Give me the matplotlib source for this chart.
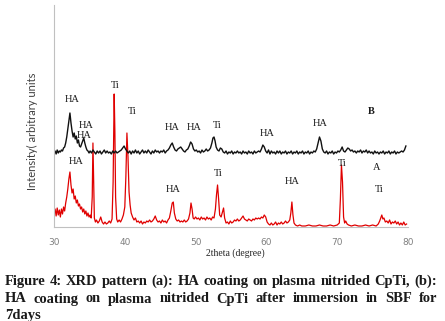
import numpy as np
import matplotlib
matplotlib.use('Agg')
import matplotlib.pyplot as plt

# (b) after SBF immersion - red trace
red_theta = [30.0, 30.15, 30.3, 30.45, 30.6, 30.75, 30.9, 31.05, 31.2, 31.35, 31.5, 31.65, 31.8, 31.95,
             32.1, 32.25, 32.4, 32.55, 32.7, 32.85, 33.0, 33.15, 33.3, 33.45, 33.6, 33.75, 33.9, 34.05,
             34.2, 34.35, 34.5, 34.65, 34.8, 34.95, 35.1, 35.25, 35.4, 35.5, 35.6, 35.7, 35.85, 36.0,
             36.2, 36.4, 36.6, 36.8, 37.0, 37.2, 37.4, 37.6, 37.8, 38.0, 38.2, 38.35, 38.5, 38.6, 38.7,
             38.85, 39.0, 39.2, 39.4, 39.6, 39.8, 40.0, 40.15, 40.3, 40.45, 40.6, 40.75, 40.9, 41.1,
             41.3, 41.5, 41.7, 41.9, 42.1, 42.3, 42.5, 42.7, 42.9, 43.1, 43.3, 43.5, 43.7, 43.9, 44.1,
             44.3, 44.5, 44.7, 44.9, 45.1, 45.3, 45.5, 45.7, 45.9, 46.1, 46.3, 46.5, 46.7, 46.85, 47.0,
             47.2, 47.4, 47.6, 47.8, 48.0, 48.2, 48.4, 48.6, 48.8, 49.0, 49.2, 49.35, 49.5, 49.65, 49.8,
             50.0, 50.2, 50.4, 50.6, 50.8, 51.0, 51.2, 51.4, 51.6, 51.8, 52.0, 52.2, 52.4, 52.6, 52.8,
             52.95, 53.1, 53.25, 53.4, 53.6, 53.8, 53.95, 54.1, 54.3, 54.5, 54.7, 54.9, 55.1, 55.3, 55.5,
             55.7, 55.9, 56.1, 56.3, 56.5, 56.7, 56.9, 57.1, 57.3, 57.5, 57.7, 57.9, 58.1, 58.3, 58.5,
             58.7, 58.9, 59.1, 59.3, 59.5, 59.7, 59.9, 60.1, 60.3, 60.5, 60.7, 60.9, 61.1, 61.3, 61.5,
             61.7, 61.9, 62.1, 62.3, 62.5, 62.7, 62.9, 63.1, 63.3, 63.45, 63.6, 63.75, 63.9, 64.1, 64.4,
             64.7, 65.0, 65.5, 66.0, 66.5, 67.0, 67.5, 68.0, 68.5, 69.0, 69.5, 70.0, 70.3, 70.45, 70.6,
             70.75, 70.9, 71.05, 71.2, 71.4, 71.6, 72.0, 72.5, 73.0, 73.5, 74.0, 74.5, 75.0, 75.5, 75.8,
             76.0, 76.15, 76.3, 76.45, 76.6, 76.8, 77.0, 77.2, 77.4, 77.6, 77.8, 78.0, 78.2, 78.4, 78.6,
             78.8, 79.0, 79.2, 79.4, 79.6, 79.8]
red_counts = [14, 18, 11, 19, 12, 17, 10, 18, 13, 20, 16, 24, 30, 38,
              48, 55, 42, 34, 38, 28, 31, 24, 27, 21, 23, 18, 20, 15,
              18, 13, 16, 11, 14, 10, 12, 9, 30, 84, 45, 9, 5, 7,
              4, 6, 10, 5, 3, 5, 3, 4, 6, 4, 8, 45, 133, 95, 30,
              8, 5, 7, 5, 8, 12, 20, 50, 94, 70, 35, 22, 14, 10,
              7, 9, 5, 6, 4, 6, 3, 5, 4, 6, 5, 7, 5, 6, 8,
              11, 7, 5, 6, 4, 7, 5, 6, 4, 7, 9, 16, 24, 25, 14,
              8, 6, 7, 5, 6, 5, 7, 5, 6, 8, 14, 24, 18, 9, 8,
              10, 8, 9, 7, 10, 8, 9, 7, 10, 8, 9, 7, 10, 9, 18,
              32, 42, 28, 12, 10, 15, 19, 9, 4, 5, 3, 6, 4, 5, 7,
              6, 8, 6, 7, 9, 11, 8, 7, 6, 8, 7, 6, 8, 7, 9,
              8, 9, 8, 10, 9, 12, 10, 5, 3, 2, 4, 2, 3, 5, 2,
              4, 3, 5, 3, 4, 6, 4, 5, 7, 14, 25, 12, 4, 2, 1,
              2, 1, 1, 2, 1, 1, 2, 1, 1, 2, 1, 2, 4, 28, 62,
              45, 10, 4, 6, 3, 2, 1, 2, 1, 1, 2, 1, 2, 1, 3,
              6, 9, 12, 8, 9, 5, 6, 4, 7, 3, 5, 4, 6, 3, 5,
              2, 4, 2, 5, 2, 3]

# (a) HA coating - black trace
black_theta = [30.0, 30.15, 30.3, 30.45, 30.6, 30.75, 30.9, 31.05, 31.2, 31.35, 31.5, 31.65, 31.8, 31.95,
               32.1, 32.25, 32.4, 32.55, 32.7, 32.85, 33.0, 33.15, 33.3, 33.45, 33.6, 33.75, 33.9, 34.05,
               34.2, 34.35, 34.5, 34.65, 34.8, 34.95, 35.1, 35.3, 35.5, 35.7, 35.9, 36.1, 36.3, 36.5,
               36.7, 36.9, 37.1, 37.3, 37.5, 37.7, 37.9, 38.1, 38.3, 38.5, 38.7, 38.9, 39.1, 39.3, 39.5,
               39.7, 39.9, 40.1, 40.3, 40.5, 40.7, 40.9, 41.1, 41.3, 41.5, 41.7, 41.9, 42.1, 42.3, 42.5,
               42.7, 42.9, 43.1, 43.3, 43.5, 43.7, 43.9, 44.1, 44.3, 44.5, 44.7, 44.9, 45.1, 45.3, 45.5,
               45.7, 45.9, 46.1, 46.3, 46.5, 46.7, 46.9, 47.1, 47.3, 47.5, 47.7, 47.9, 48.1, 48.3, 48.5,
               48.7, 48.9, 49.1, 49.3, 49.5, 49.7, 49.9, 50.1, 50.3, 50.5, 50.7, 50.9, 51.1, 51.3, 51.5,
               51.7, 51.9, 52.1, 52.3, 52.45, 52.6, 52.75, 52.9, 53.1, 53.3, 53.5, 53.7, 53.9, 54.1, 54.3,
               54.5, 54.7, 54.9, 55.1, 55.3, 55.5, 55.7, 55.9, 56.1, 56.3, 56.5, 56.7, 56.9, 57.1, 57.3,
               57.5, 57.7, 57.9, 58.1, 58.3, 58.5, 58.7, 58.9, 59.1, 59.3, 59.5, 59.7, 59.9, 60.1, 60.3,
               60.5, 60.7, 60.9, 61.1, 61.3, 61.5, 61.7, 61.9, 62.1, 62.3, 62.5, 62.7, 62.9, 63.1, 63.3,
               63.5, 63.7, 63.9, 64.1, 64.3, 64.5, 64.7, 64.9, 65.1, 65.3, 65.5, 65.7, 65.9, 66.1, 66.3,
               66.5, 66.7, 66.9, 67.1, 67.3, 67.5, 67.7, 67.9, 68.1, 68.3, 68.5, 68.7, 68.9, 69.1, 69.3,
               69.5, 69.7, 69.9, 70.1, 70.3, 70.5, 70.7, 70.9, 71.1, 71.3, 71.5, 71.7, 71.9, 72.1, 72.3,
               72.5, 72.7, 72.9, 73.1, 73.3, 73.5, 73.7, 73.9, 74.1, 74.3, 74.5, 74.7, 74.9, 75.1, 75.3,
               75.5, 75.7, 75.9, 76.1, 76.3, 76.5, 76.7, 76.9, 77.1, 77.3, 77.5, 77.7, 77.9, 78.1, 78.3,
               78.5, 78.7, 78.9, 79.1, 79.3, 79.5, 79.7]
black_counts = [74, 76, 73, 77, 74, 76, 75, 77, 76, 79, 80, 84, 90, 98,
                106, 114, 104, 96, 90, 94, 88, 91, 84, 87, 81, 80, 83, 86,
                89, 84, 80, 77, 76, 74, 76, 74, 77, 75, 73, 76, 74, 76,
                73, 75, 77, 74, 76, 74, 75, 73, 76, 74, 76, 74, 75, 76, 77,
                79, 81, 78, 76, 74, 76, 73, 76, 74, 77, 74, 76, 73, 75, 77,
                74, 76, 74, 77, 75, 73, 76, 74, 77, 75, 76, 74, 76, 75, 77,
                74, 76, 77, 79, 82, 84, 80, 77, 76, 78, 79, 80, 78, 76, 75,
                77, 78, 81, 85, 83, 78, 76, 77, 75, 76, 74, 77, 75, 76, 78,
                76, 77, 79, 84, 89, 90, 86, 80, 77, 76, 79, 78, 75, 74, 76,
                73, 75, 74, 76, 73, 75, 74, 76, 74, 75, 73, 76, 74, 75, 73,
                76, 74, 75, 73, 76, 74, 75, 76, 75, 78, 82, 80, 76, 74, 77,
                73, 76, 74, 75, 73, 76, 74, 76, 73, 75, 74, 76, 73, 75, 74,
                76, 73, 75, 74, 76, 73, 75, 74, 76, 73, 75, 74, 76, 73, 75,
                74, 76, 75, 78, 84, 90, 86, 78, 75, 74, 76, 73, 75, 74, 76,
                73, 75, 74, 76, 75, 77, 80, 76, 75, 77, 79, 78, 76, 77, 75,
                76, 74, 76, 75, 77, 74, 76, 75, 77, 74, 76, 74, 75, 73, 76,
                74, 75, 73, 75, 74, 76, 73, 75, 74, 76, 73, 75, 74, 76, 73,
                75, 74, 75, 76, 75, 77, 81]

# peak labels: text, 2theta, height
peak_labels = ['HA', 'HA', 'HA', 'Ti', 'Ti', 'HA', 'HA', 'Ti', 'HA', 'HA', 'B',
               'HA', 'HA', 'Ti', 'HA', 'Ti', 'A', 'Ti']
label_theta = [32.6, 34.6, 34.3, 38.6, 41.0, 46.7, 49.8, 53.0, 60.1, 67.6, 74.8,
               33.2, 46.8, 53.2, 63.6, 70.7, 75.6, 76.0]
label_height = [127, 102, 91, 142, 115, 99, 99, 102, 94, 104, 115,
                65, 37, 54, 45, 64, 59, 37]

x_ticks = [30, 40, 50, 60, 70, 80]

caption = ["Figure 4: XRD pattern (a): HA coating on plasma nitrided CpTi, (b):",
           "HA coating on plasma nitrided CpTi after immersion in SBF for",
           "7days"]

W, H = 445, 321
fig = plt.figure(figsize=(W / 100, H / 100), dpi=100)
ax = fig.add_axes([54 / W, 1 - 227 / H, 354 / W, 222 / H])

ax.plot(red_theta, red_counts, color='#e00000', lw=0.9)
ax.plot(black_theta, black_counts, color='#111111', lw=1.0)

for txt, xt, yt in zip(peak_labels, label_theta, label_height):
    ax.text(xt, yt, txt, ha='center', va='center', family='Liberation Serif',
            fontsize=7.5, color='#1a1a1a', fontweight='bold' if txt == 'B' else 'normal')

ax.set_xlim(30, 80)
ax.set_ylim(0, 222)
ax.set_xticks(x_ticks)
ax.set_yticks([])
ax.tick_params(axis='x', length=0, pad=8, labelsize=6.5, labelcolor='#808080')
for s in ['top', 'right']:
    ax.spines[s].set_visible(False)
for s in ['left', 'bottom']:
    ax.spines[s].set_color('#c0c0c0')
    ax.spines[s].set_linewidth(0.8)

ax.text(0.511, -0.118, '2theta (degree)', transform=ax.transAxes, ha='center', va='center',
        family='Liberation Serif', fontsize=7, color='#262626')
ax.text(-0.062, 0.43, 'Intensity( arbitrary units', transform=ax.transAxes, rotation=90,
        ha='center', va='center', family='Lato', fontsize=8, color='#404040')

# caption, justified between x=5 and x=437 px
fig.canvas.draw()
r = fig.canvas.get_renderer()
probe = fig.text(0, 0, caption[0], family='Liberation Serif', fontweight='bold', fontsize=10)
fs = 10 * 428 / probe.get_window_extent(r).width
probe.remove()

baselines = [285, 302.5, 319]
for i, (line, yb) in enumerate(zip(caption, baselines)):
    words = line.split(' ')
    items = [fig.text(0, 1 - yb / H, w, family='Liberation Serif', fontweight='bold',
                      fontsize=fs, color='#1a1a1a', va='baseline') for w in words]
    widths = [t.get_window_extent(r).width for t in items]
    if i < 2 and len(words) > 1:
        gap = (432 - sum(widths)) / (len(words) - 1)
    else:
        gap = fs * 0.25
    x = 5
    for t, w in zip(items, widths):
        t.set_x(x / W)
        x += w + gap

fig.savefig('out.png', dpi=100)
